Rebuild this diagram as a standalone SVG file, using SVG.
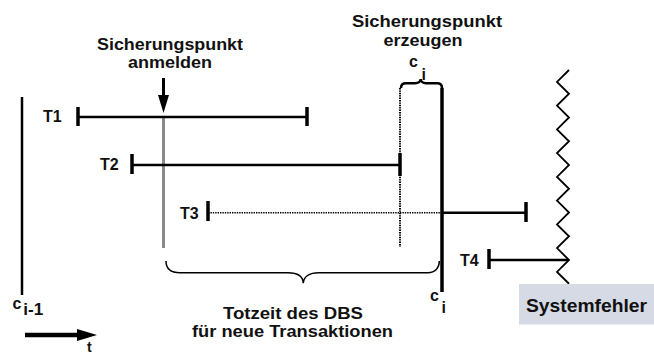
<svg xmlns="http://www.w3.org/2000/svg" width="654" height="355" viewBox="0 0 654 355">
<style>
text{font-family:"Liberation Sans",Arial,sans-serif;font-weight:bold;font-size:16px;fill:#111}
.mid{text-anchor:middle}
.ln{stroke:#000;stroke-width:2.5;fill:none}
.tick{stroke:#000;stroke-width:3.5;fill:none}
.dot{stroke:#000;stroke-width:1.6;stroke-dasharray:1.4 1;fill:none}
.thin{stroke:#000;stroke-width:1.5;fill:none}
</style>
<rect width="654" height="355" fill="#fff"/>

<g id="axis">
<line x1="22" y1="97" x2="22" y2="295" class="ln" stroke-width="3"/>
<text x="12.5" y="309">c</text>
<text x="23.3" y="315" textLength="20" lengthAdjust="spacingAndGlyphs">i-1</text>
<line x1="25" y1="335" x2="80" y2="335" stroke="#000" stroke-width="4.5"/>
<path d="M77,329 L97,335 L77,341 Z" fill="#000"/>
<text x="87" y="351.5" style="font-size:14px">t</text>
</g>

<g id="checkpoint-register">
<text class="mid" x="170" y="50" textLength="146" lengthAdjust="spacingAndGlyphs">Sicherungspunkt</text>
<text class="mid" x="170" y="68" textLength="84" lengthAdjust="spacingAndGlyphs">anmelden</text>
<line x1="163.5" y1="117" x2="163.5" y2="248" stroke="#8a8a8a" stroke-width="3"/>
<line x1="163.5" y1="78" x2="163.5" y2="98" stroke="#000" stroke-width="3"/>
<path d="M158,95 L169,95 L163.5,113 Z" fill="#000"/>
</g>

<g id="T1">
<text x="43" y="122">T1</text>
<line x1="78" y1="117" x2="307" y2="117" class="ln"/>
<line x1="78" y1="107" x2="78" y2="126" class="tick"/>
<line x1="307" y1="107" x2="307" y2="126" class="tick"/>
</g>

<g id="T2">
<text x="100" y="170">T2</text>
<line x1="132" y1="165" x2="400" y2="165" class="ln"/>
<line x1="132" y1="154" x2="132" y2="174" class="tick"/>
<line x1="400" y1="153" x2="400" y2="176" class="tick" stroke-width="3"/>
</g>

<g id="T3">
<text x="180" y="219">T3</text>
<line x1="208" y1="212.7" x2="442" y2="212.7" class="dot"/>
<line x1="442" y1="212.7" x2="526" y2="212.7" class="ln"/>
<line x1="208" y1="201" x2="208" y2="221" class="tick"/>
<line x1="526" y1="202" x2="526" y2="222" class="tick"/>
</g>

<g id="T4">
<text x="460" y="265.5">T4</text>
<line x1="489" y1="260" x2="568" y2="260" class="ln" stroke-width="2.2"/>
<line x1="489" y1="249" x2="489" y2="269" class="tick"/>
</g>

<g id="checkpoint-create">
<text class="mid" x="427" y="27" textLength="150" lengthAdjust="spacingAndGlyphs">Sicherungspunkt</text>
<text class="mid" x="423" y="46" textLength="79" lengthAdjust="spacingAndGlyphs">erzeugen</text>
<text x="409" y="67">c</text>
<text x="421.5" y="80">i</text>
<path d="M401,88 C401,84.5 402.5,83.3 406,83.3 L415,83.3 C418.5,83.3 420.7,81.5 420.7,79 C420.7,81.5 423,83.3 426,83.3 L437,83.3 C440.5,83.3 442,85 442,88" fill="none" stroke="#000" stroke-width="2.5"/>
<line x1="400" y1="88" x2="400" y2="247" stroke="#000" stroke-width="2" stroke-dasharray="1.4 1"/>
<line x1="442" y1="88" x2="442" y2="292" stroke="#000" stroke-width="3.5"/>
<text x="430" y="301">c</text>
<text x="441.5" y="313">i</text>
</g>

<g id="deadtime">
<path d="M166,261 C166,269 171,272.7 180,272.7 L288,272.7 C298,272.7 303,277 303.3,283.3 C303.6,277 309,272.7 319,272.7 L428,272.7 C435,272.7 439.3,268 439.3,261" class="thin"/>
<text class="mid" x="293" y="319" style="font-size:17px" textLength="140" lengthAdjust="spacingAndGlyphs">Totzeit des DBS</text>
<text class="mid" x="292.5" y="337" style="font-size:17px" textLength="201" lengthAdjust="spacingAndGlyphs">für neue Transaktionen</text>
</g>

<g id="system-failure">
<path d="M569,70 L557,81.9 L569,93.75 L557,105.6 L569,117.5 L557,129.4 L569,141.25 L557,153.1 L569,165 L557,176.9 L569,188.75 L557,200.6 L569,212.5 L557,224.4 L569,236.25 L557,248.1 L569,260 L557,271.9 L569,283.75" fill="none" stroke="#000" stroke-width="1.8"/>
<rect x="519" y="284" width="135" height="40.5" fill="#d5dae5"/>
<text x="526" y="312" style="font-size:18px" textLength="121" lengthAdjust="spacingAndGlyphs">Systemfehler</text>
</g>
</svg>
